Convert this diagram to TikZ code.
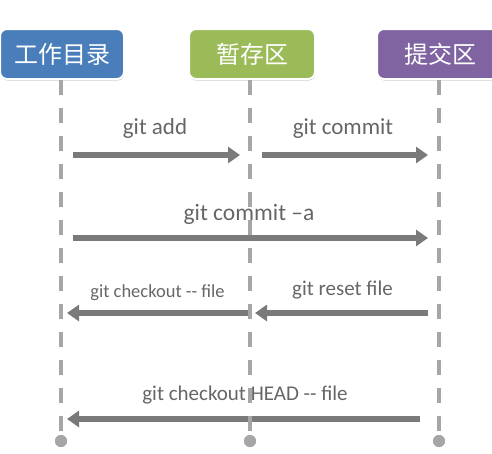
\documentclass[tikz,border=0pt]{standalone}
\usepackage{fontspec}
\setmainfont{Carlito}[Ligatures=TeXOff]
\newfontfamily\cjk{Noto Sans CJK SC}
\usetikzlibrary{arrows.meta,shadows}
\definecolor{boxblue}{HTML}{4A7EBB}
\definecolor{boxgreen}{HTML}{9BBB59}
\definecolor{boxpurple}{HTML}{8064A2}
\definecolor{lifegray}{HTML}{A6A6A6}
\definecolor{arrgray}{HTML}{7A7A7A}
\definecolor{txtgray}{HTML}{666666}
\begin{document}
\begin{tikzpicture}[x=1pt,y=-1pt,
  stage/.style={rounded corners=7pt, draw=white, line width=2pt,
    minimum width=126pt, minimum height=50pt, text=white, inner sep=0pt,
    font=\cjk\fontsize{24}{28}\selectfont,
    drop shadow={shadow xshift=0.5pt,shadow yshift=-1.5pt,opacity=0.35,fill=black!60}},
  life/.style={draw=lifegray, line width=4pt, dash pattern=on 15pt off 13pt},
  cmd/.style={line width=6pt, draw=arrgray, -{Triangle[length=12pt,width=16pt]}},
  lbl/.style={text=txtgray, anchor=base, inner sep=0pt},
  lifedot/.style={circle, fill=lifegray, minimum size=12pt, inner sep=0pt}]
\path[use as bounding box, clip] (0,0) rectangle (492,453);

% arrow end points
\coordinate (a1s) at (73,155);  \coordinate (a1e) at (240,155);
\coordinate (a2s) at (262,155); \coordinate (a2e) at (428,155);
\coordinate (a3s) at (73,238);  \coordinate (a3e) at (428,238);
\coordinate (a4s) at (248,313); \coordinate (a4e) at (67,313);
\coordinate (a5s) at (428,313); \coordinate (a5e) at (255,313);
\coordinate (a6s) at (420,419); \coordinate (a6e) at (67,419);

\draw[cmd] (a1s) -- (a1e);
\draw[cmd] (a2s) -- (a2e);
\draw[cmd] (a3s) -- (a3e);
\draw[cmd] (a4s) -- (a4e);
\draw[cmd] (a5s) -- (a5e);
\draw[cmd] (a6s) -- (a6e);

\node[lbl, font=\fontsize{23}{27}\selectfont] (l1) at (155,134) {git add};
\node[lbl, font=\fontsize{23}{27}\selectfont] (l2) at (343,134) {git commit};
\node[lbl, font=\fontsize{23.5}{27}\selectfont] (l3) at (249,220) {git commit –a};
\node[lbl, font=\fontsize{18.5}{22}\selectfont] (l4) at (157.5,297) {git checkout -- file};
\node[lbl, font=\fontsize{21}{25}\selectfont] (l5) at (342.5,295) {git reset file};
\node[lbl, font=\fontsize{21}{25}\selectfont] (l6) at (245,400.5) {git checkout HEAD -- file};

% end dots
\node[lifedot] (d1) at (61,441) {};
\node[lifedot] (d2) at (250,441) {};
\node[lifedot] (d3) at (439,441) {};

% stage boxes
\node[stage, fill=boxblue, minimum width=124pt] (b1) at (62,54) {工作目录};
\node[stage, fill=boxgreen] (b2) at (252,54) {暂存区};
\node[stage, fill=boxpurple] (b3) at (440,54) {提交区};

% lifelines
\draw[life] (b1.south -| d1.center) -- (d1.center);
\draw[life] (b2.south -| d2.center) -- (d2.center);
\draw[life] (b3.south -| d3.center) -- (d3.center);
\node[lifedot] at (d1) {};
\node[lifedot] at (d2) {};
\node[lifedot] at (d3) {};
\end{tikzpicture}
\end{document}
